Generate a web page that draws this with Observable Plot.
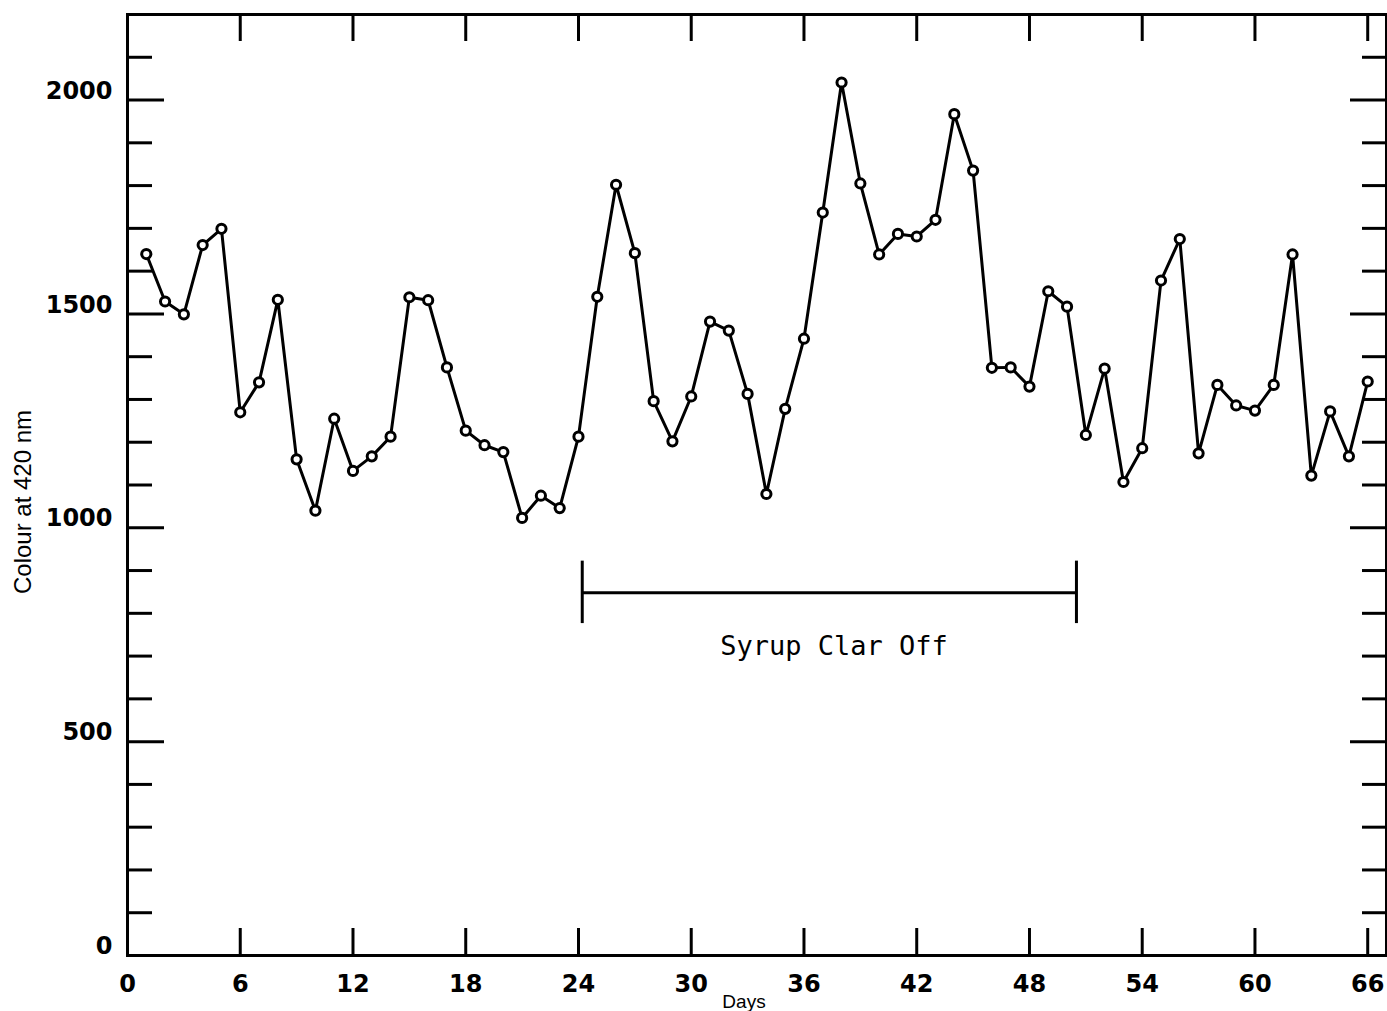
<!DOCTYPE html>
<html>
<head>
<meta charset="utf-8">
<script src="https://cdn.jsdelivr.net/npm/d3@7"></script>
<script src="https://cdn.jsdelivr.net/npm/@observablehq/plot@0.6"></script>
<style>
  html, body { margin: 0; padding: 0; background: #fff; }
</style>
</head>
<body>
<div id="chart"></div>
<script>
// ---- data ----
const days = [1,2,3,4,5,6,7,8,9,10,11,12,13,14,15,16,17,18,19,20,21,22,23,24,25,26,27,28,29,30,31,32,33,34,35,36,37,38,39,40,41,42,43,44,45,46,47,48,49,50,51,52,53,54,55,56,57,58,59,60,61,62,63,64,65,66];
const colour = [1640,1529,1499,1661,1699,1270,1340,1533,1160,1040,1255,1133,1167,1213,1539,1532,1375,1227,1193,1177,1023,1075,1046,1213,1540,1802,1642,1296,1202,1307,1482,1461,1313,1079,1278,1442,1737,2041,1805,1639,1687,1681,1720,1967,1835,1374,1375,1330,1553,1517,1217,1372,1107,1186,1578,1675,1174,1334,1286,1274,1334,1639,1122,1272,1167,1342];
const xTicks = [0,6,12,18,24,30,36,42,48,54,60,66];
const yMajorTicks = [0,500,1000,1500,2000];
const yMinorTicks = [100,200,300,400,600,700,800,900,1100,1200,1300,1400,1600,1700,1800,1900,2100];
const xLabel = "Days";
const yLabel = "Colour at 420 nm";
const periodLabel = "Syrup Clar Off";
const periodStart = 24.2, periodEnd = 50.5, periodLevel = 848, periodCapLow = 776, periodCapHigh = 922, periodMid = 37.6, periodTextLevel = 722;

const data = days.map((d, i) => ({day: d, value: colour[i]}));
const period = [{x1: periodStart, x2: periodEnd, y: periodLevel}];
const caps = [periodStart, periodEnd].map(x => ({x, y1: periodCapLow, y2: periodCapHigh}));

// ---- layout ----
const W = 1387, H = 1011, mL = 127, mR = 1, mT = 14, mB = 56;
const plotW = W - mL - mR, plotH = H - mT - mB;
const tickFont = "DejaVu Sans, sans-serif";

const chart = Plot.plot({
  width: W, height: H,
  marginLeft: mL, marginRight: mR, marginTop: mT, marginBottom: mB,
  style: {background: "white", color: "black", fontFamily: tickFont},
  x: {domain: [0, 67], axis: null},
  y: {domain: [0, 2200], axis: null},
  marks: [
    // y tick labels
    Plot.axisY({ticks: yMajorTicks, tickSize: 0, tickPadding: 15, dy: -9, fontSize: 24, fontWeight: "bold", tickFormat: d => String(d), label: null}),
    // x tick labels
    Plot.axisX({ticks: xTicks, tickSize: 0, tickPadding: 19, fontSize: 24, fontWeight: "bold", tickFormat: d => String(d), label: null}),
    // inner ticks left/right
    Plot.tickY(yMajorTicks, {y: d => d, insetRight: plotW - 37, strokeWidth: 3}),
    Plot.tickY(yMinorTicks, {y: d => d, insetRight: plotW - 25, strokeWidth: 3}),
    Plot.tickY(yMajorTicks, {y: d => d, insetLeft: plotW - 36, strokeWidth: 3}),
    Plot.tickY(yMinorTicks, {y: d => d, insetLeft: plotW - 24, strokeWidth: 3}),
    // inner ticks top/bottom
    Plot.tickX(xTicks, {x: d => d, insetBottom: plotH - 27, strokeWidth: 3}),
    Plot.tickX(xTicks, {x: d => d, insetTop: plotH - 27, strokeWidth: 3}),
    Plot.frame({stroke: "black", strokeWidth: 3}),
    // series
    Plot.line(data, {x: "day", y: "value", stroke: "black", strokeWidth: 3}),
    Plot.dot(data, {x: "day", y: "value", r: 4.6, fill: "white", stroke: "black", strokeWidth: 3}),
    // period bracket
    Plot.ruleY(period, {x1: "x1", x2: "x2", y: "y", stroke: "black", strokeWidth: 3}),
    Plot.ruleX(caps, {x: "x", y1: "y1", y2: "y2", stroke: "black", strokeWidth: 3}),
    Plot.text([periodLabel], {x: () => periodMid, y: () => periodTextLevel, text: d => d, fontSize: 27, fontFamily: "DejaVu Sans Mono, monospace", textAnchor: "middle", lineAnchor: "middle", fill: "black"}),
    // axis titles
    Plot.text([xLabel], {text: d => d, frameAnchor: "bottom", dx: -13, dy: 46, fontSize: 19, fontFamily: "Liberation Sans, Arial, sans-serif", textAnchor: "middle", lineAnchor: "middle", fill: "black"}),
    Plot.text([yLabel], {text: d => d, frameAnchor: "left", rotate: -90, dx: -104, dy: 17, fontSize: 24, fontFamily: "Liberation Sans, Arial, sans-serif", textAnchor: "middle", lineAnchor: "middle", fill: "black"})
  ]
});
document.getElementById("chart").appendChild(chart);
</script>
</body>
</html>
